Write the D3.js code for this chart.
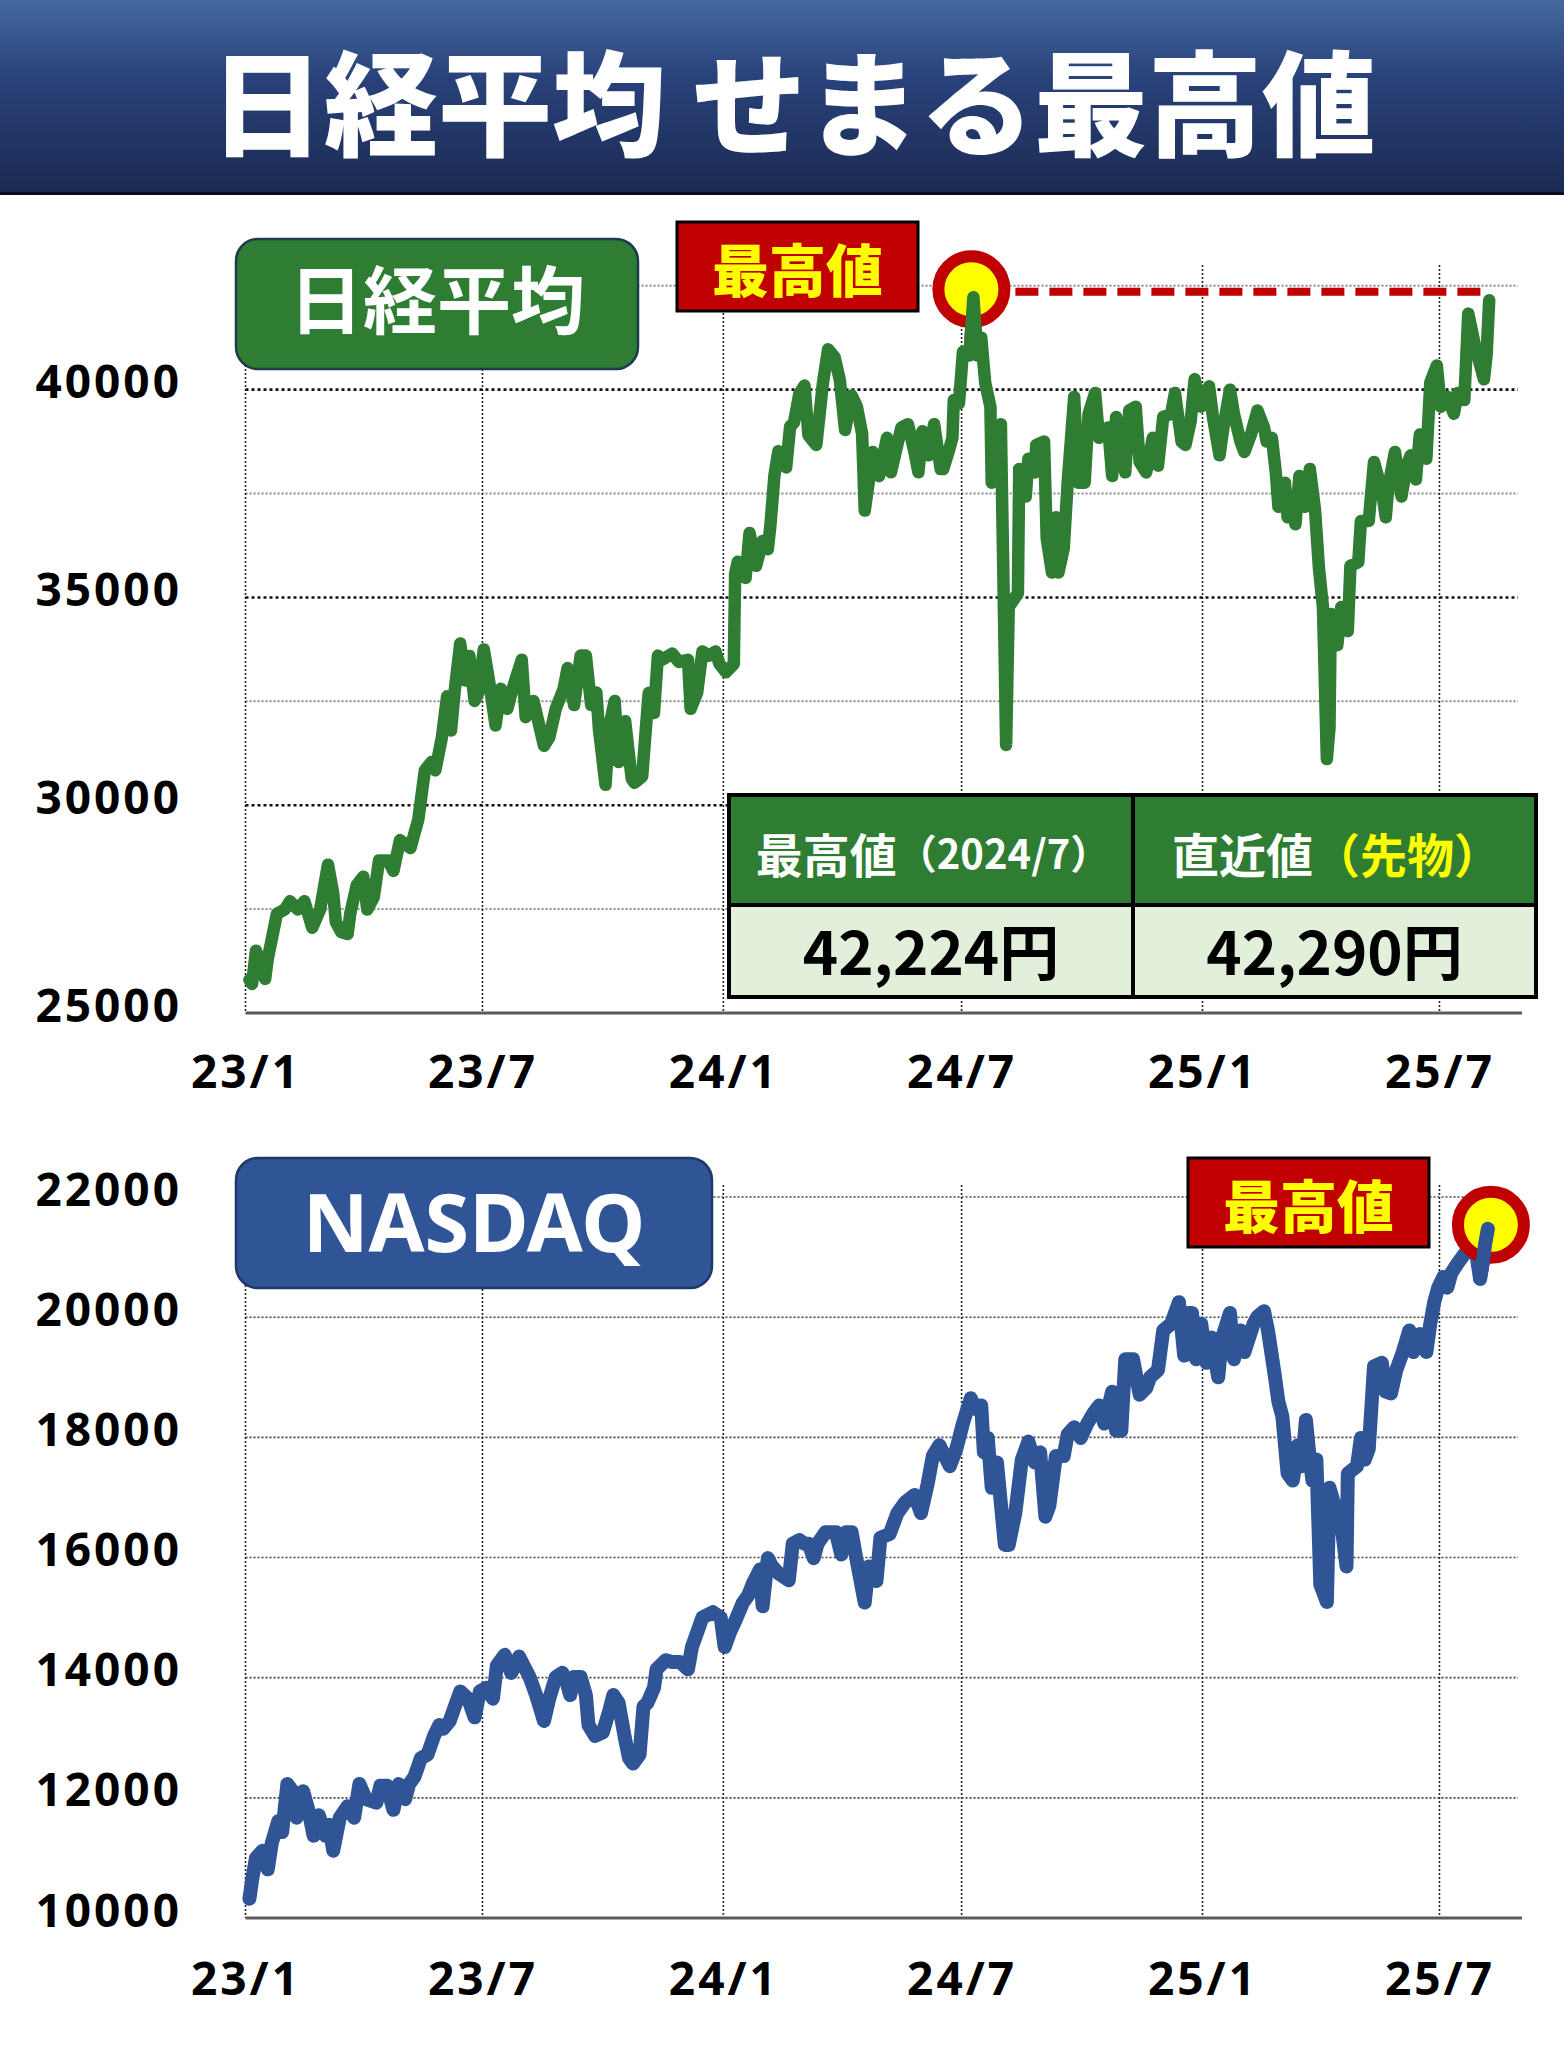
<!DOCTYPE html>
<html><head><meta charset="utf-8">
<script src="https://cdn.jsdelivr.net/npm/d3@7"></script>
<style>html,body{margin:0;padding:0;background:#fff;}svg{display:block;}</style>
</head><body>
<svg id="chart" width="1564" height="2048"></svg>
<script>
// ---------------- data ----------------
const titleText = "日経平均 せまる最高値";
const xTickDates = ["2023-01-01","2023-07-01","2024-01-01","2024-07-01","2025-01-01","2025-07-01"];
const xTickLabels = ["23/1","23/7","24/1","24/7","25/1","25/7"];
const nikkeiMajorTicks = [25000,30000,35000,40000];
const nikkeiMinorTicks = [27500,32500,37500,42500];
const nasdaqTicks = [10000,12000,14000,16000,18000,20000,22000];

const nikkeiDates = ["2023-01-04","2023-01-06","2023-01-09","2023-01-13","2023-01-16","2023-01-18","2023-01-25","2023-01-31","2023-02-04","2023-02-10","2023-02-15","2023-02-21","2023-02-27","2023-03-05","2023-03-09","2023-03-11","2023-03-15","2023-03-20","2023-03-22","2023-03-27","2023-04-01","2023-04-04","2023-04-09","2023-04-13","2023-04-20","2023-04-24","2023-04-29","2023-05-07","2023-05-13","2023-05-18","2023-05-23","2023-05-26","2023-05-31","2023-06-04","2023-06-07","2023-06-10","2023-06-14","2023-06-18","2023-06-21","2023-06-25","2023-06-28","2023-07-02","2023-07-06","2023-07-11","2023-07-15","2023-07-20","2023-07-24","2023-07-31","2023-08-03","2023-08-09","2023-08-17","2023-08-21","2023-08-26","2023-09-01","2023-09-04","2023-09-09","2023-09-14","2023-09-18","2023-09-22","2023-09-26","2023-09-28","2023-10-03","2023-10-06","2023-10-10","2023-10-13","2023-10-18","2023-10-23","2023-10-25","2023-10-31","2023-11-03","2023-11-05","2023-11-09","2023-11-12","2023-11-15","2023-11-23","2023-11-28","2023-12-05","2023-12-07","2023-12-12","2023-12-16","2023-12-21","2023-12-26","2023-12-29","2024-01-03","2024-01-09","2024-01-10","2024-01-12","2024-01-18","2024-01-21","2024-01-26","2024-01-31","2024-02-04","2024-02-06","2024-02-09","2024-02-12","2024-02-18","2024-02-21","2024-02-24","2024-02-28","2024-03-03","2024-03-06","2024-03-12","2024-03-17","2024-03-21","2024-03-26","2024-03-30","2024-04-03","2024-04-08","2024-04-12","2024-04-16","2024-04-18","2024-04-21","2024-04-24","2024-04-29","2024-05-05","2024-05-08","2024-05-16","2024-05-21","2024-05-26","2024-05-29","2024-06-01","2024-06-06","2024-06-10","2024-06-15","2024-06-17","2024-06-21","2024-06-24","2024-06-25","2024-06-29","2024-07-02","2024-07-07","2024-07-10","2024-07-13","2024-07-16","2024-07-19","2024-07-23","2024-07-24","2024-07-28","2024-07-31","2024-08-04","2024-08-06","2024-08-13","2024-08-14","2024-08-19","2024-08-21","2024-08-26","2024-08-27","2024-09-02","2024-09-04","2024-09-08","2024-09-11","2024-09-13","2024-09-17","2024-09-20","2024-09-25","2024-09-28","2024-10-03","2024-10-06","2024-10-11","2024-10-14","2024-10-21","2024-10-24","2024-10-27","2024-11-03","2024-11-06","2024-11-11","2024-11-14","2024-11-19","2024-11-24","2024-11-28","2024-12-02","2024-12-08","2024-12-11","2024-12-16","2024-12-19","2024-12-23","2024-12-26","2024-12-31","2025-01-06","2025-01-09","2025-01-14","2025-01-17","2025-01-22","2025-01-25","2025-01-30","2025-02-02","2025-02-07","2025-02-12","2025-02-17","2025-02-19","2025-02-23","2025-02-26","2025-02-28","2025-03-05","2025-03-07","2025-03-10","2025-03-13","2025-03-16","2025-03-20","2025-03-24","2025-03-28","2025-03-31","2025-04-03","2025-04-06","2025-04-08","2025-04-09","2025-04-14","2025-04-17","2025-04-22","2025-04-24","2025-04-30","2025-05-02","2025-05-08","2025-05-12","2025-05-15","2025-05-18","2025-05-21","2025-05-23","2025-05-28","2025-06-02","2025-06-06","2025-06-09","2025-06-13","2025-06-16","2025-06-21","2025-06-24","2025-06-29","2025-07-02","2025-07-07","2025-07-12","2025-07-15","2025-07-20","2025-07-23","2025-07-28","2025-08-04","2025-08-06","2025-08-08"];
const nikkeiValues = [25800,25700,26500,26100,25820,26300,27390,27490,27690,27490,27690,27050,27490,28570,27880,27190,26950,26900,27390,28080,28280,27490,27790,28670,28670,28420,29160,28970,29660,30840,31040,30840,31630,32620,31800,32810,33890,33000,33590,32510,32710,33750,33000,31920,32800,32320,32800,33500,32120,32510,31430,31630,32320,32800,33300,32410,33600,33600,32410,32710,31820,30490,31920,32510,31040,32020,30640,30540,30690,31920,32700,32220,33600,33500,33650,33450,33500,32320,32710,33700,33600,33700,33400,33200,33400,35570,35860,35470,36550,35760,36360,36160,36750,37930,38520,38130,39110,39210,39900,40100,38900,38670,40140,40970,40780,40230,39030,39860,39590,38940,37090,37760,38500,37920,38840,38010,39090,39170,38500,38010,39000,38420,39170,38090,38090,38500,38840,39750,39670,40910,40830,42224,40830,41250,40170,39590,37760,39090,39170,31450,34770,35100,38090,37430,38340,38010,38670,38750,36430,35600,36930,35600,36180,37760,39830,37760,37760,39420,39920,38840,39090,37920,39340,38010,39500,39590,38260,38010,38840,38170,39340,39420,39920,38750,38670,39250,40250,39590,40080,39340,38420,39090,40000,39420,38750,38500,38920,39500,39090,38750,38840,38010,37180,37760,36930,37180,36760,37920,37180,38090,37090,35680,34770,31110,31860,34600,33850,34770,34190,35760,35850,36840,36840,38260,37920,37590,36930,37670,38500,37430,38170,38420,37840,38920,38340,40170,40580,39590,39830,39420,39920,39750,41830,41080,40250,40830,42150];

const nasdaqDates = ["2023-01-04","2023-01-06","2023-01-09","2023-01-14","2023-01-18","2023-01-21","2023-01-26","2023-01-29","2023-02-02","2023-02-06","2023-02-09","2023-02-14","2023-02-18","2023-02-22","2023-02-26","2023-03-03","2023-03-06","2023-03-09","2023-03-14","2023-03-20","2023-03-25","2023-03-29","2023-04-03","2023-04-11","2023-04-14","2023-04-19","2023-04-24","2023-04-28","2023-05-03","2023-05-06","2023-05-10","2023-05-15","2023-05-20","2023-05-25","2023-05-29","2023-06-01","2023-06-06","2023-06-14","2023-06-20","2023-06-25","2023-06-29","2023-07-04","2023-07-09","2023-07-12","2023-07-18","2023-07-23","2023-07-29","2023-08-06","2023-08-11","2023-08-17","2023-08-21","2023-08-26","2023-08-31","2023-09-03","2023-09-06","2023-09-09","2023-09-14","2023-09-18","2023-09-20","2023-09-25","2023-10-01","2023-10-06","2023-10-09","2023-10-13","2023-10-18","2023-10-21","2023-10-24","2023-10-29","2023-11-01","2023-11-04","2023-11-09","2023-11-11","2023-11-18","2023-11-23","2023-11-29","2023-12-05","2023-12-08","2023-12-16","2023-12-24","2023-12-30","2024-01-02","2024-01-06","2024-01-10","2024-01-16","2024-01-20","2024-01-24","2024-01-29","2024-01-31","2024-02-04","2024-02-07","2024-02-12","2024-02-20","2024-02-23","2024-02-28","2024-03-03","2024-03-06","2024-03-10","2024-03-13","2024-03-19","2024-03-27","2024-03-31","2024-04-04","2024-04-08","2024-04-11","2024-04-18","2024-04-21","2024-04-27","2024-04-30","2024-05-07","2024-05-13","2024-05-19","2024-05-26","2024-05-31","2024-06-05","2024-06-09","2024-06-14","2024-06-22","2024-06-27","2024-07-02","2024-07-08","2024-07-12","2024-07-16","2024-07-18","2024-07-21","2024-07-24","2024-07-28","2024-08-03","2024-08-06","2024-08-11","2024-08-16","2024-08-21","2024-08-26","2024-08-30","2024-09-03","2024-09-06","2024-09-11","2024-09-17","2024-09-20","2024-09-25","2024-09-30","2024-10-05","2024-10-10","2024-10-14","2024-10-18","2024-10-24","2024-10-27","2024-10-31","2024-11-03","2024-11-09","2024-11-14","2024-11-19","2024-11-22","2024-11-28","2024-12-02","2024-12-08","2024-12-14","2024-12-18","2024-12-21","2024-12-24","2024-12-27","2024-12-31","2025-01-04","2025-01-08","2025-01-13","2025-01-16","2025-01-22","2025-01-25","2025-01-30","2025-02-02","2025-02-09","2025-02-12","2025-02-17","2025-02-20","2025-02-25","2025-02-28","2025-03-03","2025-03-07","2025-03-11","2025-03-15","2025-03-18","2025-03-21","2025-03-24","2025-03-26","2025-03-29","2025-04-01","2025-04-06","2025-04-08","2025-04-12","2025-04-16","2025-04-21","2025-04-22","2025-04-29","2025-05-02","2025-05-05","2025-05-08","2025-05-12","2025-05-18","2025-05-21","2025-05-25","2025-05-29","2025-06-03","2025-06-08","2025-06-11","2025-06-16","2025-06-21","2025-06-24","2025-06-27","2025-06-30","2025-07-04","2025-07-07","2025-07-10","2025-07-15","2025-07-21","2025-07-26","2025-07-29","2025-08-01","2025-08-03","2025-08-05","2025-08-07"];
const nasdaqValues = [10320,10630,11000,11120,10810,11240,11610,11430,12230,12110,11670,12110,11800,11370,11710,11370,11550,11120,11670,11860,11670,12230,11980,11920,12200,12200,11800,12230,11980,12230,12350,12660,12720,13030,13210,13150,13280,13770,13650,13340,13770,13830,13650,14200,14380,14080,14350,14010,13710,13280,13650,14010,14080,13950,13710,14010,14010,13710,13210,13030,13090,13460,13710,13580,12970,12660,12570,12720,13520,13580,13830,14140,14290,14260,14260,14140,14510,15000,15090,15000,14510,14750,14940,15250,15370,15590,15800,15190,15990,15860,15740,15620,16230,16290,16230,16230,15990,16230,16420,16420,16050,16420,16420,16050,15250,15850,15610,16330,16390,16740,16920,17040,16740,17220,17690,17870,17520,17810,18230,18650,18470,18530,17750,17990,17160,17580,16210,16210,16740,17630,17930,17580,17750,16680,16860,17690,17690,18050,18170,17990,18230,18410,18530,18230,18760,18110,18110,19300,19300,18710,18820,19000,19120,19780,19890,20250,19360,20070,20070,19300,19890,19240,19660,19000,19660,20070,19300,19780,19420,19890,20010,20100,19780,19060,18590,18350,17400,17280,17870,17520,18290,17630,17280,17630,15550,15260,17160,16860,16740,15850,17400,17520,17990,17630,17810,19180,19240,18760,18730,19120,19420,19780,19420,19720,19420,19890,20250,20490,20670,20490,20730,20900,21080,21200,21080,20640,20900,21230,21470];

const nikkeiRecord = {date: "2024-07-10", value: 42224};
const tableHeadMain = ["最高値", "直近値"];
const tableHeadSub = ["（2024/7）", "（先物）"];
const tableValues = ["42,224円", "42,290円"];

// ---------------- drawing ----------------
const parse = d3.timeParse("%Y-%m-%d");
const W = 1564;
const svg = d3.select("#chart");
const JP = "'Noto Sans CJK JP', 'Noto Sans', sans-serif";
const LAT = "'Noto Sans', 'Noto Sans CJK JP', sans-serif";
const GREEN = "#2e7d32", BLUE = "#2f5597", RED = "#c00000";
const GREEN_W = 12.5, BLUE_W = 14;

// Title banner
const defs = svg.append("defs");
const grad = defs.append("linearGradient").attr("id","bannerGrad").attr("x1",0).attr("y1",0).attr("x2",0).attr("y2",1);
grad.append("stop").attr("offset","0%").attr("stop-color","#44689f");
grad.append("stop").attr("offset","40%").attr("stop-color","#29427a");
grad.append("stop").attr("offset","100%").attr("stop-color","#1b2a52");
svg.append("rect").attr("x",0).attr("y",0).attr("width",W).attr("height",193).attr("fill","url(#bannerGrad)");
svg.append("line").attr("x1",0).attr("x2",W).attr("y1",193.5).attr("y2",193.5).attr("stroke","#0a0f1e").attr("stroke-width",3);
svg.append("text").attr("x",793).attr("y",97).attr("text-anchor","middle").attr("dominant-baseline","central")
  .attr("font-family",JP).attr("font-weight",900).attr("font-size",114).attr("fill","#fff").text(titleText);

const x = d3.scaleTime().domain([parse("2023-01-01"), parse("2025-08-30")]).range([245.5, 1518]);
const xL = x.range()[0], xR = x.range()[1];

function drawPanel(opts) {
  const {y, majors, minors, dates, values, color, width, labelY} = opts;
  const top = y.range()[1], bottom = y.range()[0];
  const g = svg.append("g");
  g.selectAll(null).data(minors).join("line")
    .attr("x1", xL).attr("x2", xR).attr("y1", d => y(d)).attr("y2", d => y(d))
    .attr("stroke", "#8a8a8a").attr("stroke-width", 2).attr("stroke-dasharray", "2,2");
  g.selectAll(null).data(xTickDates).join("line")
    .attr("x1", d => x(parse(d))).attr("x2", d => x(parse(d))).attr("y1", top).attr("y2", bottom)
    .attr("stroke", "#222").attr("stroke-width", 1.6).attr("stroke-dasharray", "2,2");
  g.selectAll(null).data(majors.filter(d => d !== y.domain()[0])).join("line")
    .attr("x1", xL).attr("x2", xR).attr("y1", d => y(d)).attr("y2", d => y(d))
    .attr("stroke", opts.majorColor).attr("stroke-width", opts.majorWidth).attr("stroke-dasharray", opts.majorDash);
  g.append("line").attr("x1", xL).attr("x2", xR + 4).attr("y1", bottom).attr("y2", bottom)
    .attr("stroke", "#5a5a5a").attr("stroke-width", 3);
  const ya = g.append("g").attr("transform", "translate(182,0)")
    .call(d3.axisLeft(y).tickValues(majors).tickSize(0).tickPadding(0).tickFormat(d3.format("d")));
  ya.select(".domain").remove();
  ya.selectAll("text").attr("x", 0).attr("dy", null).attr("y", 8)
    .attr("font-family", LAT).attr("font-weight", 700).attr("font-size", 46)
    .attr("letter-spacing", 3).attr("fill", "#000").attr("text-anchor", "end");
  const xa = g.append("g").attr("transform", `translate(0,${labelY})`)
    .call(d3.axisBottom(x).tickValues(xTickDates.map(parse)).tickSize(0).tickPadding(0).tickFormat((d, i) => xTickLabels[i]));
  xa.select(".domain").remove();
  xa.selectAll("text").attr("y", 0).attr("dy", null)
    .attr("font-family", LAT).attr("font-weight", 700).attr("font-size", 46)
    .attr("letter-spacing", 3).attr("fill", "#000");
  const pts = dates.map((d, i) => [parse(d), values[i]]);
  g.append("path").datum(pts)
    .attr("d", d3.line().x(d => x(d[0])).y(d => y(d[1])))
    .attr("fill", "none").attr("stroke", color).attr("stroke-width", width)
    .attr("stroke-linejoin", "round").attr("stroke-linecap", "round");
  return g;
}

const yN = d3.scaleLinear().domain([25000, 43000]).range([1013, 265]);
drawPanel({y: yN, majors: nikkeiMajorTicks, minors: nikkeiMinorTicks, dates: nikkeiDates, values: nikkeiValues,
  color: GREEN, width: GREEN_W, labelY: 1088, majorColor: "#111", majorWidth: 2.6, majorDash: "3,3"});

const yQ = d3.scaleLinear().domain([10000, 22200]).range([1918, 1185]);
drawPanel({y: yQ, majors: nasdaqTicks, minors: [], dates: nasdaqDates, values: nasdaqValues,
  color: BLUE, width: BLUE_W, labelY: 1995, majorColor: "#444", majorWidth: 1.6, majorDash: "2,2"});

function labelBox(x0, y0, w, h, fill, stroke, text, font, size, tx, ty) {
  svg.append("rect").attr("x", x0).attr("y", y0).attr("width", w).attr("height", h).attr("rx", 22)
    .attr("fill", fill).attr("stroke", stroke).attr("stroke-width", 2.5);
  svg.append("text").attr("x", tx).attr("y", ty).attr("text-anchor", "middle")
    .attr("font-family", font).attr("font-weight", 700).attr("font-size", size).attr("fill", "#fff").text(text);
}
labelBox(236, 239, 402, 130, GREEN, "#1e3a4f", "日経平均", JP, 74, 437, 328);
labelBox(236, 1158, 476, 130, BLUE, "#1f3864", "NASDAQ", LAT, 81, 474, 1252);

function recordBox(x0, y0) {
  svg.append("rect").attr("x", x0).attr("y", y0).attr("width", 241).attr("height", 89)
    .attr("fill", RED).attr("stroke", "#000").attr("stroke-width", 3);
  svg.append("text").attr("x", x0 + 120.5).attr("y", y0 + 45).attr("text-anchor", "middle").attr("dominant-baseline", "central")
    .attr("font-family", JP).attr("font-weight", 900).attr("font-size", 57).attr("fill", "#ffff00").text("最高値");
}
recordBox(677, 222);
recordBox(1188, 1158);

const recX = x(parse(nikkeiRecord.date)), recY = yN(nikkeiRecord.value);
const lastN = nikkeiDates.length - 1;
svg.append("path")
  .attr("d", `M${recX + 42},${recY - 5.5} H${x(parse(nikkeiDates[lastN])) - 7} V${recY}`)
  .attr("fill", "none").attr("stroke", RED).attr("stroke-width", 8).attr("stroke-dasharray", "23,11");
function marker(cx, cy) {
  svg.append("circle").attr("cx", cx).attr("cy", cy).attr("r", 33)
    .attr("fill", "#ffff00").attr("stroke", RED).attr("stroke-width", 12);
}
marker(recX - 2, recY - 8);
const lastQ = nasdaqDates.length - 1;
marker(x(parse(nasdaqDates[lastQ])) + 3, yQ(nasdaqValues[lastQ]) - 4);

function tip(dates, values, from, y, color, width) {
  const pts = dates.slice(from).map((d, i) => [parse(d), values[from + i]]);
  svg.append("path").datum(pts).attr("d", d3.line().x(d => x(d[0])).y(d => y(d[1])))
    .attr("fill", "none").attr("stroke", color).attr("stroke-width", width)
    .attr("stroke-linejoin", "round").attr("stroke-linecap", "round");
}
const ri = nikkeiDates.indexOf(nikkeiRecord.date);
tip(nikkeiDates.slice(0, ri + 2), nikkeiValues.slice(0, ri + 2), ri - 1, yN, GREEN, GREEN_W);
tip(nasdaqDates, nasdaqValues, lastQ - 3, yQ, BLUE, BLUE_W);

const tX = [729, 1133, 1536], tY = [795, 905, 997];
for (let c = 0; c < 2; c++) {
  svg.append("rect").attr("x", tX[c]).attr("y", tY[0]).attr("width", tX[c+1] - tX[c]).attr("height", tY[1] - tY[0]).attr("fill", GREEN);
  svg.append("rect").attr("x", tX[c]).attr("y", tY[1]).attr("width", tX[c+1] - tX[c]).attr("height", tY[2] - tY[1]).attr("fill", "#e2efda");
  const cx = (tX[c] + tX[c+1]) / 2;
  const ht = svg.append("text").attr("x", cx + 2).attr("y", 852).attr("text-anchor", "middle").attr("dominant-baseline", "central")
    .attr("font-family", JP).attr("font-weight", 700).attr("fill", "#fff");
  ht.append("tspan").attr("font-size", 47).text(tableHeadMain[c]);
  ht.append("tspan").attr("font-size", c === 0 ? 40 : 47).attr("fill", c === 0 ? "#fff" : "#ffff00").text(tableHeadSub[c]);
  svg.append("text").attr("x", cx).attr("y", 975).attr("text-anchor", "middle")
    .attr("font-family", JP).attr("font-weight", 700).attr("font-size", 60).attr("fill", "#000").text(tableValues[c]);
}
svg.append("rect").attr("x", tX[0]).attr("y", tY[0]).attr("width", tX[2] - tX[0]).attr("height", tY[2] - tY[0])
  .attr("fill", "none").attr("stroke", "#000").attr("stroke-width", 4);
svg.append("line").attr("x1", tX[1]).attr("x2", tX[1]).attr("y1", tY[0]).attr("y2", tY[2]).attr("stroke", "#000").attr("stroke-width", 4);
svg.append("line").attr("x1", tX[0]).attr("x2", tX[2]).attr("y1", tY[1]).attr("y2", tY[1]).attr("stroke", "#000").attr("stroke-width", 4);
</script>
</body></html>
